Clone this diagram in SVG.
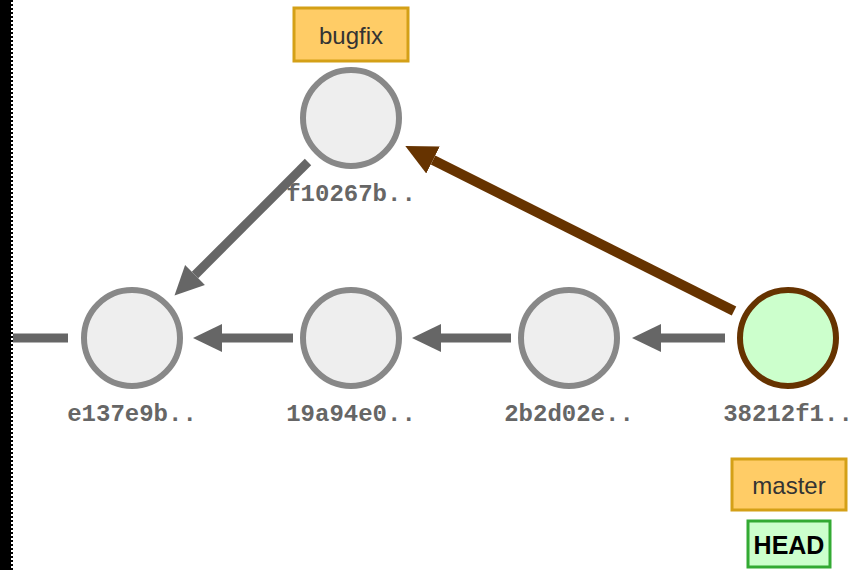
<svg xmlns="http://www.w3.org/2000/svg" width="852" height="570" viewBox="0 0 852 570">
<style>
.commit{fill:#eeeeee;stroke:#888888;stroke-width:6}
.head{fill:#ccffcc;stroke:#663300;stroke-width:6}
.sha{font-family:"Liberation Mono","Courier New",monospace;font-weight:bold;font-size:24px;fill:#666666;text-anchor:middle}
.branch rect{fill:#ffcc66;stroke:#d4a017;stroke-width:3}
.branch text{font-family:"Liberation Sans",Arial,sans-serif;font-size:24px;fill:#333333;text-anchor:middle}
.headlbl rect{fill:#ccffcc;stroke:#33aa33;stroke-width:3}
.headlbl text{font-family:"Liberation Sans",Arial,sans-serif;font-weight:bold;font-size:25px;fill:#000;text-anchor:middle}
.edge{stroke:#666666;stroke-width:9;fill:none}
.edge.merge{stroke:#663300;stroke-width:10}
</style>
<defs>
<marker id="ag" markerUnits="userSpaceOnUse" markerWidth="30" markerHeight="30" refX="0" refY="15" orient="auto" viewBox="0 0 30 30">
<path d="M0,1 L29,15 L0,29 z" fill="#666666"/>
</marker>
<marker id="ab" markerUnits="userSpaceOnUse" markerWidth="32" markerHeight="32" refX="0" refY="16" orient="auto" viewBox="0 0 32 32">
<path d="M0,1 L31,16 L0,31 z" fill="#663300"/>
</marker>
</defs>
<rect x="0" y="0" width="852" height="570" fill="#ffffff"/>
<rect x="0" y="0" width="11" height="570" fill="#000000"/>
<line x1="12" y1="0" x2="12" y2="570" stroke="#000" stroke-width="2" stroke-dasharray="2 2"/>
<g id="connectors">
<line class="edge" x1="13" y1="338" x2="68" y2="338"/>
<line class="edge" x1="293" y1="338" x2="222" y2="338" marker-end="url(#ag)"/>
<line class="edge" x1="511" y1="338" x2="441" y2="338" marker-end="url(#ag)"/>
<line class="edge" x1="725" y1="338" x2="661" y2="338" marker-end="url(#ag)"/>
<line class="edge" x1="308" y1="162" x2="195" y2="275" marker-end="url(#ag)"/>
<line class="edge merge" x1="734" y1="311" x2="433" y2="160" marker-end="url(#ab)"/>
</g>
<g id="node-f10267b">
<circle class="commit" cx="351" cy="118" r="48"/>
<text class="sha" x="351" y="201">f10267b..</text>
</g>
<g id="node-e137e9b">
<circle class="commit" cx="132" cy="338" r="48"/>
<text class="sha" x="132" y="421">e137e9b..</text>
</g>
<g id="node-19a94e0">
<circle class="commit" cx="351" cy="338" r="48"/>
<text class="sha" x="351" y="421">19a94e0..</text>
</g>
<g id="node-2b2d02e">
<circle class="commit" cx="569" cy="338" r="48"/>
<text class="sha" x="569" y="421">2b2d02e..</text>
</g>
<g id="node-38212f1">
<circle class="head" cx="788" cy="338" r="48"/>
<text class="sha" x="788" y="421">38212f1..</text>
</g>
<g id="branch-bugfix" class="branch">
<rect x="294" y="8" width="114" height="53"/>
<text x="351" y="44">bugfix</text>
</g>
<g id="branch-master" class="branch">
<rect x="732" y="459" width="114" height="51"/>
<text x="789" y="494">master</text>
</g>
<g id="label-head" class="headlbl">
<rect x="748" y="521" width="82" height="46"/>
<text x="789" y="554">HEAD</text>
</g>
</svg>
